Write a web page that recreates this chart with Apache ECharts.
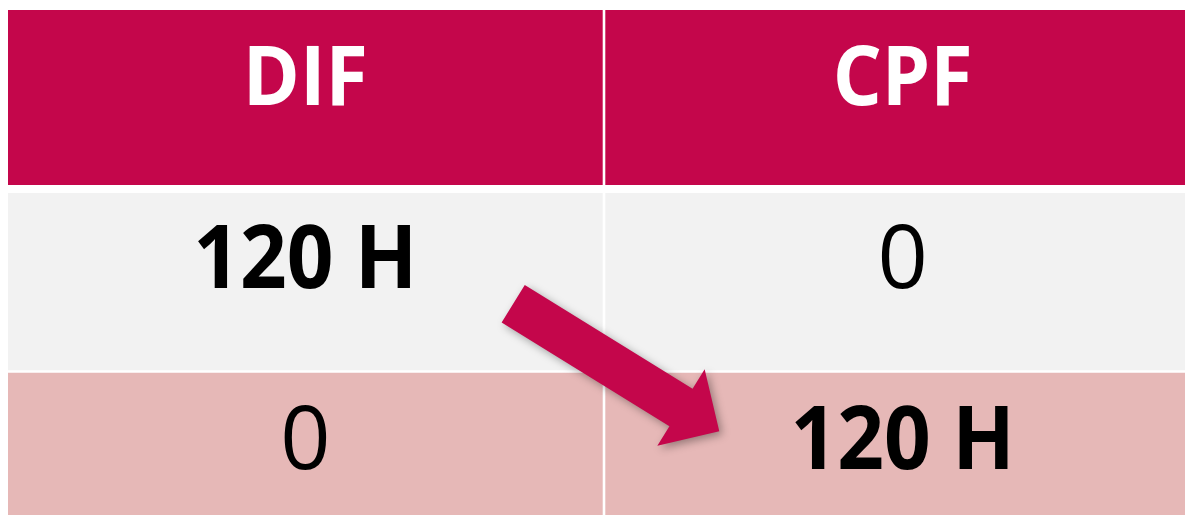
<!DOCTYPE html>
<html>
<head>
<meta charset="utf-8">
<script src="https://cdn.jsdelivr.net/npm/echarts@6/dist/echarts.min.js"></script>
<style>
  html, body { margin: 0; padding: 0; background: #fff; }
  #chart { width: 1185px; height: 515px; }
</style>
</head>
<body>
<div id="chart"></div>
<script>
const columns = ['DIF', 'CPF']
const rowNames = ['header', 'before', 'after']
const beforeValues = ['120 H', '0']
const afterValues = ['0', '120 H']
// arrow goes from [column, row] to [column, row]
const arrowFrom = [0, 1]
const arrowTo = [1, 2]

const red = '#C4064B'
const rowFill = [red, '#F2F2F2', '#E6B8B7']
// white gaps round each cell: [top, bottom]
const rowInset = [[1.3, 5.1], [2.9, 1.3], [1.3, 1.3]]

const cells = []
columns.forEach((name, c) => cells.push({ value: [c, 0], text: name }))
beforeValues.forEach((v, c) => cells.push({ value: [c, 1], text: v }))
afterValues.forEach((v, c) => cells.push({ value: [c, 2], text: v }))

const renderCell = (params, api) => {
  const c = api.value(0)
  const r = api.value(1)
  const p = api.coord([c, r])
  const s = api.size([1, 1])
  const cell = cells[params.dataIndex]
  const inset = rowInset[r]
  const header = r === 0
  const bold = header || cell.text !== '0'
  const size = header ? 83 : 88
  return {
    type: 'group',
    children: [
      {
        type: 'rect',
        shape: {
          x: p[0] - s[0] / 2 + 1.3,
          y: p[1] - s[1] / 2 + inset[0],
          width: s[0] - 2.6,
          height: s[1] - inset[0] - inset[1]
        },
        style: { fill: rowFill[r] }
      },
      {
        type: 'text',
        x: p[0],
        y: p[1] - 18,
        scaleX: bold ? 0.93 : 1,
        style: {
          text: cell.text,
          x: 0,
          y: 0,
          align: 'center',
          verticalAlign: 'middle',
          font: (bold ? 'bold ' : '') + size + 'px "Open Sans"',
          fill: header ? '#fff' : '#000'
        }
      }
    ]
  }
}

const renderArrow = (params, api) => {
  const from = api.coord([api.value(0), api.value(1)])
  const to = api.coord([api.value(2), api.value(3)])
  const s = api.size([1, 1])
  const tail = [from[0] + 0.348 * s[0], from[1] + 0.127 * s[1]]
  const tip = [to[0] - 0.307 * s[0], to[1] - 0.171 * s[1]]
  const dx = tip[0] - tail[0]
  const dy = tip[1] - tail[1]
  const len = Math.sqrt(dx * dx + dy * dy)
  const u = [dx / len, dy / len]
  const n = [-u[1], u[0]]
  const shaft = 22
  const head = 45
  const headLen = 45
  const base = [tip[0] - u[0] * headLen, tip[1] - u[1] * headLen]
  const pt = (o, k) => [o[0] + n[0] * k, o[1] + n[1] * k]
  return {
    type: 'polygon',
    shape: {
      points: [
        pt(tail, shaft), pt(base, shaft), pt(base, head), tip,
        pt(base, -head), pt(base, -shaft), pt(tail, -shaft)
      ]
    },
    style: {
      fill: red,
      shadowBlur: 8,
      shadowOffsetX: 3,
      shadowOffsetY: 3,
      shadowColor: 'rgba(0,0,0,0.35)'
    }
  }
}

const option = {
  animation: false,
  grid: {
    left: 6.7,
    top: 8.7,
    width: 1194.6,
    height: 544.2,
    outerBoundsMode: 'none',
    containLabel: false
  },
  xAxis: { type: 'category', data: columns, show: false },
  yAxis: { type: 'category', data: rowNames, inverse: true, show: false },
  series: [
    {
      type: 'custom',
      renderItem: renderCell,
      data: cells.map(d => d.value),
      clip: false,
      silent: true
    },
    {
      type: 'custom',
      renderItem: renderArrow,
      encode: { x: [0, 2], y: [1, 3] },
      data: [arrowFrom.concat(arrowTo)],
      clip: false,
      silent: true
    }
  ]
}

const chart = echarts.init(document.getElementById('chart'))
chart.setOption(option)
</script>
</body>
</html>
